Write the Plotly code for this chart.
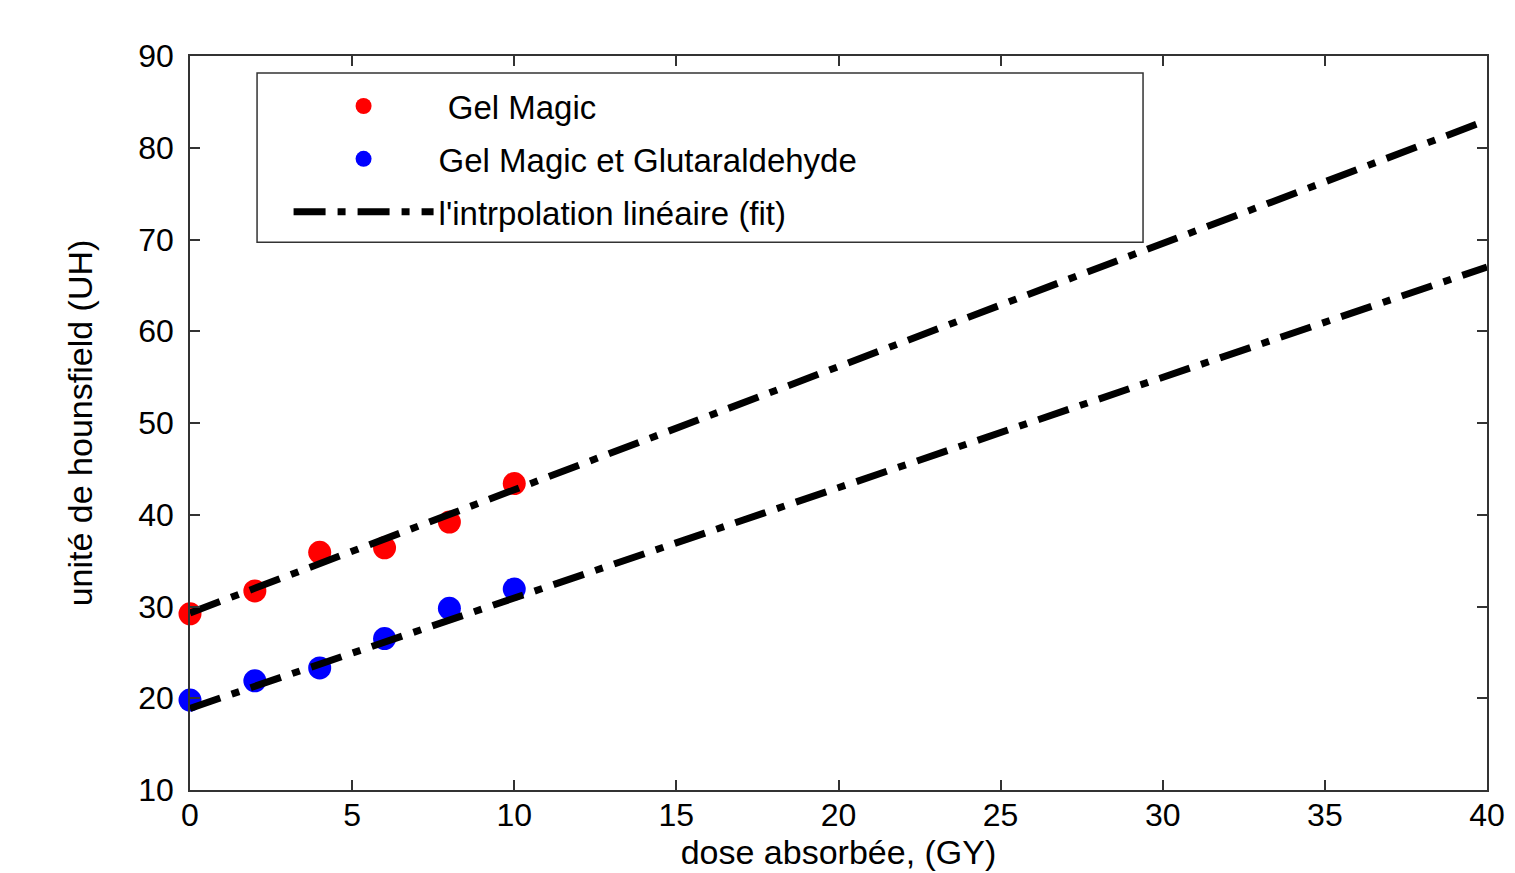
import plotly.graph_objects as go

dose = [0, 2, 4, 6, 8, 10]
gel_magic = [29.2, 31.7, 35.9, 36.4, 39.2, 43.4]
gel_magic_glut = [19.8, 21.9, 23.3, 26.5, 29.8, 31.9]

fit_dose = [0, 40]
fit_gel_magic = [29.3, 83.0]
fit_gel_magic_glut = [18.9, 67.0]

x_ticks = [0, 5, 10, 15, 20, 25, 30, 35, 40]
y_ticks = [10, 20, 30, 40, 50, 60, 70, 80, 90]

FONT = "Liberation Sans, Arial, sans-serif"
DASH = "32px,12px,8px,12px"

fig = go.Figure()
fig.add_trace(go.Scatter(
    x=dose, y=gel_magic, mode="markers", name=" Gel Magic",
    marker=dict(color="#ff0000", size=23, line=dict(width=0)),
    cliponaxis=False, legendgroup="a"))
fig.add_trace(go.Scatter(
    x=dose, y=gel_magic_glut, mode="markers", name="Gel Magic et Glutaraldehyde",
    marker=dict(color="#0000ff", size=23, line=dict(width=0)),
    cliponaxis=False, legendgroup="b"))
fig.add_trace(go.Scatter(
    x=fit_dose, y=fit_gel_magic, mode="lines", name="l'intrpolation linéaire (fit)",
    line=dict(color="black", width=7, dash=DASH), legendgroup="c"))
fig.add_trace(go.Scatter(
    x=fit_dose, y=fit_gel_magic_glut, mode="lines", name="fit 2", showlegend=False,
    line=dict(color="black", width=7, dash=DASH), legendgroup="c"))

axis_common = dict(
    showline=True, linecolor="#333333", linewidth=1.5, mirror="ticks",
    ticks="inside", ticklen=10, tickwidth=1.5, tickcolor="#333333",
    showgrid=False, zeroline=False, automargin=False,
    tickfont=dict(family=FONT, size=32, color="black"),
)

fig.update_layout(
    width=1507, height=865,
    margin=dict(l=182, r=28, t=48, b=83),
    paper_bgcolor="white", plot_bgcolor="white",
    font=dict(family=FONT, color="black"),
    xaxis=dict(range=[0, 40], tickvals=x_ticks, ticklabelstandoff=-4,
               title=dict(text="dose absorbée, (GY)", font=dict(family=FONT, size=34), standoff=3),
               **axis_common),
    yaxis=dict(range=[10, 90], tickvals=y_ticks, ticklabelstandoff=8,
               title=dict(text="unité de hounsfield (UH)", font=dict(family=FONT, size=34), standoff=35),
               **axis_common),
    legend=dict(
        x=0.076, y=0.97, xanchor="left", yanchor="top",
        bgcolor="rgba(0,0,0,0)", borderwidth=0,
        font=dict(family=FONT, size=33, color="black"),
        itemwidth=140, tracegroupgap=7,
    ),
    shapes=[dict(type="rect", xref="paper", yref="paper",
                 x0=0.0517, x1=0.7348, y0=0.7462, y1=0.977,
                 line=dict(color="#333333", width=1.5), fillcolor="rgba(0,0,0,0)")],
)

fig.write_html("out.html")
